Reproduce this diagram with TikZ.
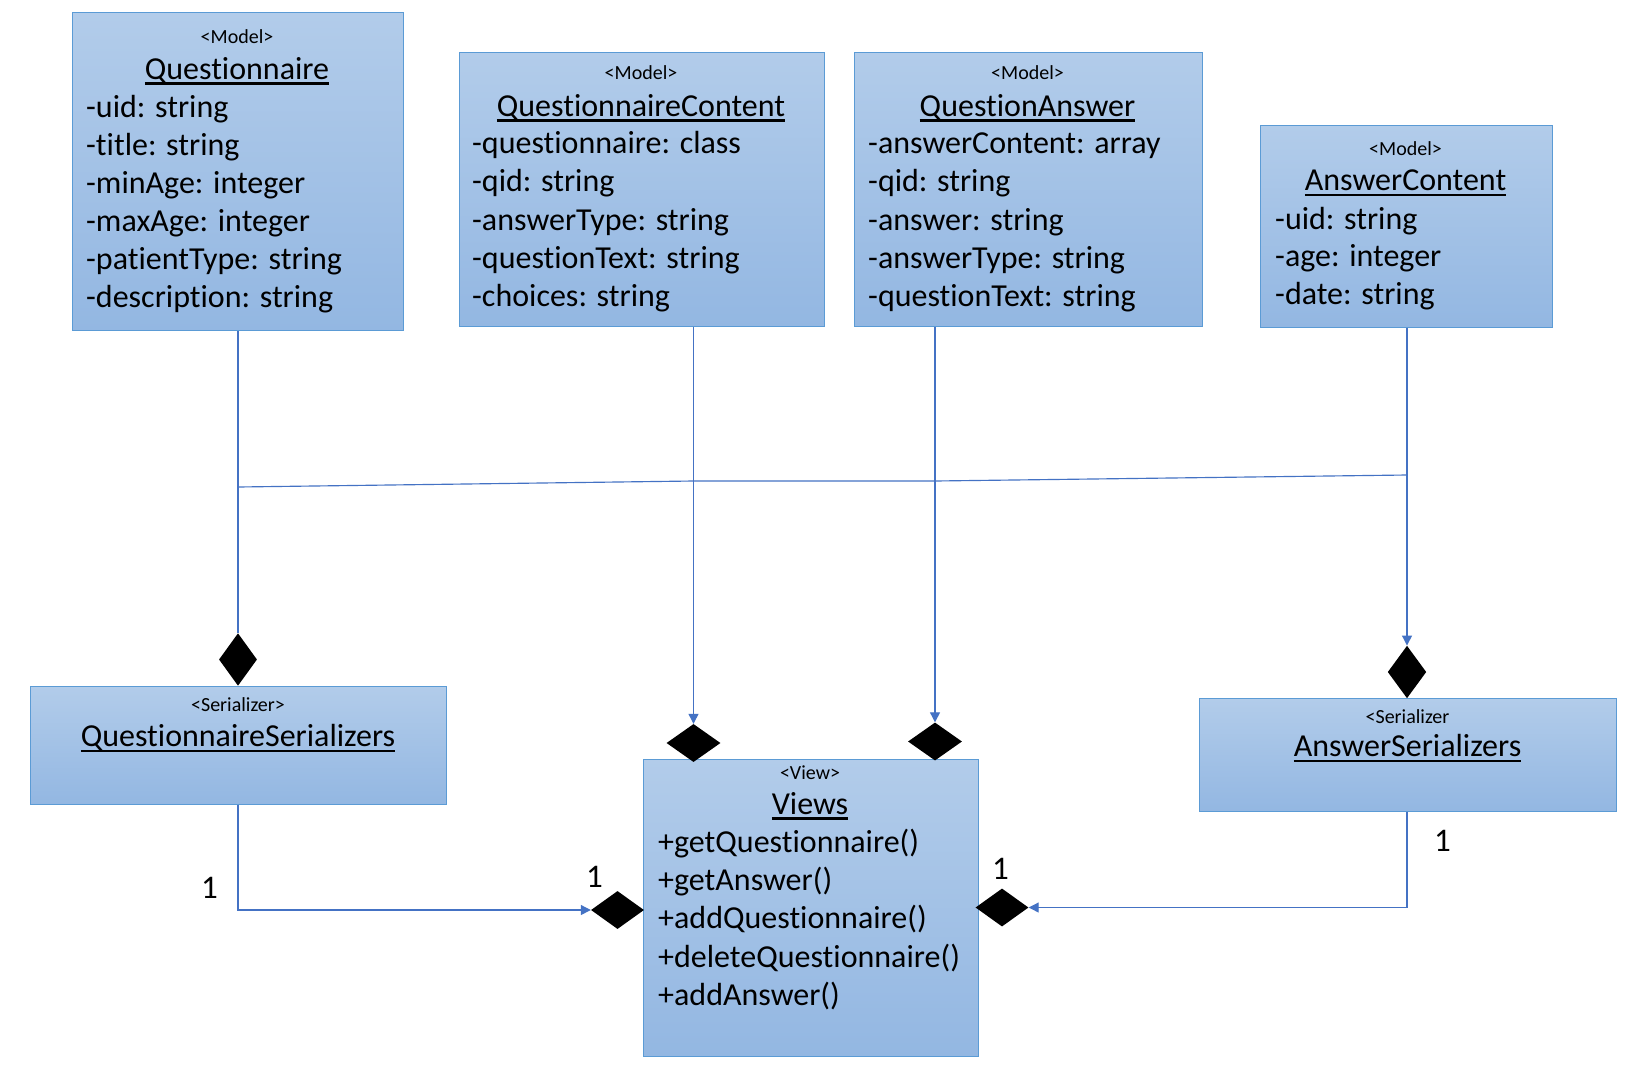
\documentclass[tikz,border=0pt]{standalone}
\usepackage{fontspec}
\setmainfont{Carlito}[Ligatures={NoCommon}]
\usetikzlibrary{shapes.geometric,arrows.meta}
\definecolor{boxtop}{HTML}{B2CCEA}
\definecolor{boxbot}{HTML}{93B7E2}
\definecolor{boxline}{HTML}{5B9BD5}
\definecolor{conn}{HTML}{4472C4}
\newcommand{\clsname}[1]{\setbox0=\hbox{#1}\rlap{\vrule height -3pt depth 5.5pt width \wd0}\box0}
\tikzset{
  umlbox/.style={draw=boxline, line width=1.2pt, top color=boxtop, bottom color=boxbot, rectangle, inner sep=0pt, anchor=north west},
  stereo/.style={font=\fontsize{20}{24}\selectfont, anchor=base, inner sep=0pt},
  cname/.style={font=\fontsize{32}{38}\selectfont, anchor=base, inner sep=0pt},
  attr/.style={font=\fontsize{32}{38}\selectfont, anchor=base west, inner sep=0pt},
  mult/.style={font=\fontsize{33}{40}\selectfont, anchor=base, inner sep=0pt},
  dia/.style={diamond, fill=black, draw=none, inner sep=0pt},
  conn/.style={draw=conn, line width=1.15pt},
  arr/.style={conn, -{Triangle[length=10pt,width=10pt]}}
}
\begin{document}
\begin{tikzpicture}[x=1pt,y=-1pt]
\useasboundingbox (0,0) rectangle (1637,1068);
\fill[white] (0,0) rectangle (1637,1068);

% ---------- boxes ----------
\node[umlbox, minimum width=331pt, minimum height=318pt] (q) at (72,12) {};
\node[umlbox, minimum width=364.5pt, minimum height=274.5pt] (qc) at (459,51.5) {};
\node[umlbox, minimum width=348.5pt, minimum height=274.5pt] (qa) at (853.5,51.5) {};
\node[umlbox, minimum width=292pt, minimum height=201.5pt] (ac) at (1260,125) {};
\node[umlbox, minimum width=416pt, minimum height=118pt] (qs) at (30,685.5) {};
\node[umlbox, minimum width=335pt, minimum height=297.5pt] (v) at (643,758.5) {};
\node[umlbox, minimum width=417pt, minimum height=112.5pt] (as) at (1199,698) {};

% ---------- Questionnaire ----------
\node[stereo] (qst) at (237,43) {<Model>};
\node[cname] (qn) at (237,79) {\clsname{Questionnaire}};
\node[attr] (qa1) at (86,117.5) {-uid: string};
\node[attr] (qa2) at (86,155.5) {-title: string};
\node[attr] (qa3) at (86,193.5) {-minAge: integer};
\node[attr] (qa4) at (86,231.5) {-maxAge: integer};
\node[attr] (qa5) at (86,269.5) {-patientType: string};
\node[attr] (qa6) at (86,307.5) {-description: string};

% ---------- QuestionnaireContent ----------
\node[stereo] (qcst) at (641,79) {<Model>};
\node[cname] (qcn) at (641,116) {\clsname{QuestionnaireContent}};
\node[attr] (qc1) at (472,153.5) {-questionnaire: class};
\node[attr] (qc2) at (472,191.8) {-qid: string};
\node[attr] (qc3) at (472,230.1) {-answerType: string};
\node[attr] (qc4) at (472,268.4) {-questionText: string};
\node[attr] (qc5) at (472,306.7) {-choices: string};

% ---------- QuestionAnswer ----------
\node[stereo] (qast) at (1027.5,79) {<Model>};
\node[cname] (qan) at (1027.5,116) {\clsname{QuestionAnswer}};
\node[attr] (qa1b) at (868,153.5) {-answerContent: array};
\node[attr] (qa2b) at (868,191.8) {-qid: string};
\node[attr] (qa3b) at (868,230.1) {-answer: string};
\node[attr] (qa4b) at (868,268.4) {-answerType: string};
\node[attr] (qa5b) at (868,306.7) {-questionText: string};

% ---------- AnswerContent ----------
\node[stereo] (acst) at (1405.5,155) {<Model>};
\node[cname] (acn) at (1405.5,190.7) {\clsname{AnswerContent}};
\node[attr] (ac1) at (1275,229) {-uid: string};
\node[attr] (ac2) at (1275,266.7) {-age: integer};
\node[attr] (ac3) at (1275,304.4) {-date: string};

% ---------- QuestionnaireSerializers ----------
\node[stereo] (qsst) at (238,711.7) {<Serializer>};
\node[cname] (qsn) at (238,746.7) {\clsname{QuestionnaireSerializers}};

% ---------- AnswerSerializers ----------
\node[stereo] (asst) at (1407.5,723) {<Serializer};
\node[cname] (asn) at (1407.5,756.7) {\clsname{AnswerSerializers}};

% ---------- Views ----------
\node[stereo] (vst) at (810,779) {<View>};
\node[cname] (vn) at (810,814) {\clsname{Views}};
\node[attr] (v1) at (658,852.7) {+getQuestionnaire()};
\node[attr] (v2) at (658,890.8) {+getAnswer()};
\node[attr] (v3) at (658,928.9) {+addQuestionnaire()};
\node[attr] (v4) at (658,967) {+deleteQuestionnaire()};
\node[attr] (v5) at (658,1005.1) {+addAnswer()};

% ---------- diamonds ----------
\node[dia, minimum width=38pt, minimum height=52.5pt] (d1) at (238,659.5) {};
\node[dia, minimum width=54pt, minimum height=38pt] (d2) at (693.5,743) {};
\node[dia, minimum width=54pt, minimum height=38pt] (d3) at (935,741.5) {};
\node[dia, minimum width=38.5pt, minimum height=52.5pt] (d4) at (1407,672) {};
\node[dia, minimum width=53pt, minimum height=38pt] (d5) at (617.5,910) {};
\node[dia, minimum width=53pt, minimum height=38pt] (d6) at (1002,907.5) {};

% ---------- connectors ----------
\draw[conn] (q.south -| d1) -- (d1.north);
\draw[arr] (qc.south -| d2) -- (d2.north);
\draw[arr] (qa.south -| d3) -- (d3.north);
\draw[arr] (ac.south -| d4) -- (d4.north);
\draw[arr] (qs.south -| d1) |- (d5.west);
\draw[arr] (as.south -| d4) |- (d6.east);

\coordinate (j1) at (238,487);
\coordinate (j2) at (693.5,481);
\coordinate (j3) at (935,481);
\coordinate (j4) at (1407,475);
\draw[conn] (j1) -- (j2) -- (j3) -- (j4);

% ---------- multiplicities ----------
\node[mult] (m1) at (209.5,898) {1};
\node[mult] (m2) at (594.5,887) {1};
\node[mult] (m3) at (1000.5,879) {1};
\node[mult] (m4) at (1442.5,851) {1};
\end{tikzpicture}
\end{document}
